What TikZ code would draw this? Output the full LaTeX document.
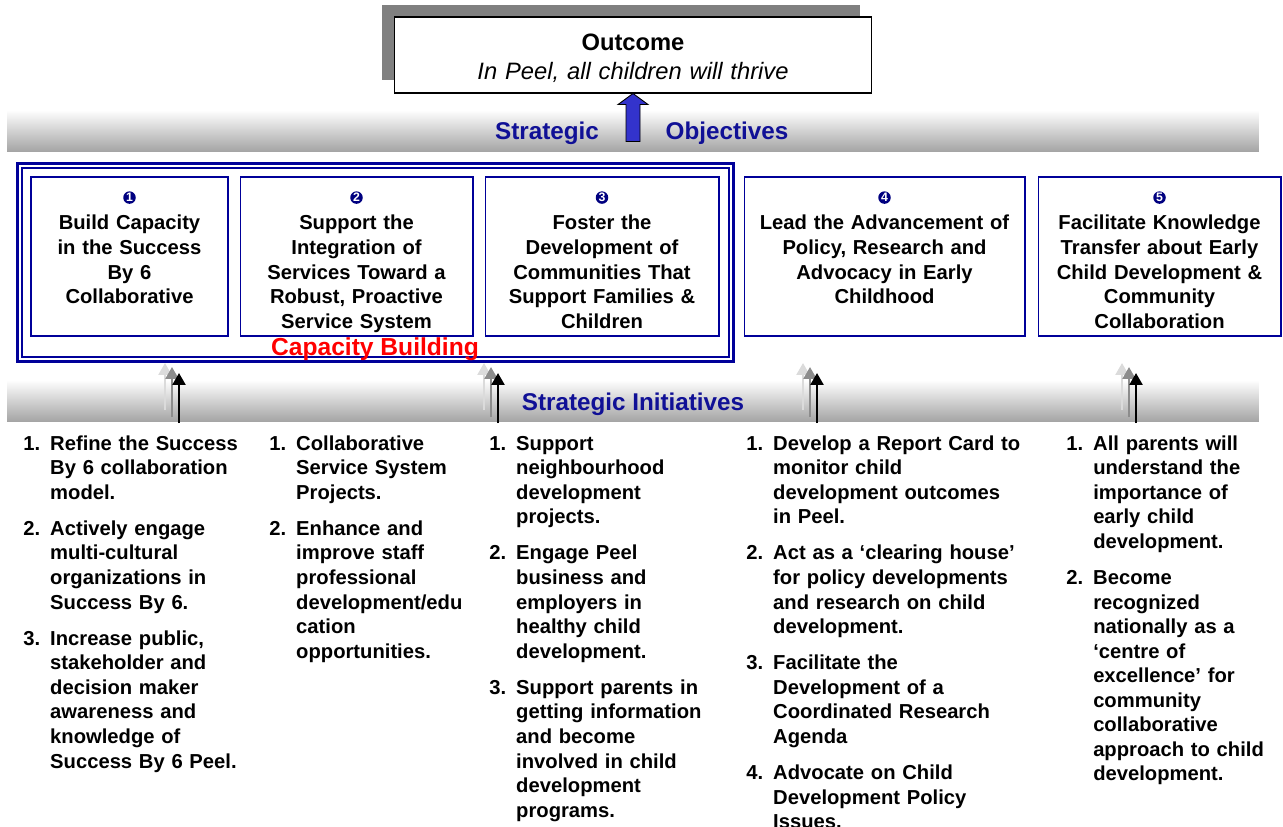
\documentclass[tikz,border=0pt]{standalone}
\usepackage{fontspec}
\setmainfont{Liberation Sans}
\usetikzlibrary{positioning, arrows.meta}

\definecolor{navy}{RGB}{0,0,153}
\definecolor{headblue}{RGB}{16,16,150}
\definecolor{arrowblue}{RGB}{51,51,204}
\definecolor{dotblue}{RGB}{0,0,128}

% one numbered initiative, hanging under its number
\newcommand{\itm}[2]{\hangindent=15.3pt\hangafter=1\noindent\makebox[15.3pt][l]{#1.}#2\par\vspace{6.8pt}}
\newcommand{\nl}{\newline}

\begin{document}
\begin{tikzpicture}[x=0.02cm, y=-0.02cm,
	txt/.style={font=\fontsize{11.5}{13.95}\selectfont\bfseries},
	band/.style={top color=white, bottom color=black!36, minimum width=25.04cm, minimum height=0.84cm, inner sep=0pt},
	heading/.style={text=headblue, font=\fontsize{13.8}{16}\selectfont\bfseries, inner sep=0pt, anchor=base},
	objbox/.style={draw=navy, line width=0.6pt, minimum height=3.18cm, inner sep=0pt},
	objtext/.style={txt, text width=5.5cm, align=center, inner sep=0pt, anchor=base},
	numdot/.style={circle, fill=dotblue, text=white, minimum size=0.25cm, inner sep=0pt, font=\fontsize{7}{7}\selectfont\bfseries},
	initlist/.style={txt, text width=6cm, align=left, inner sep=0pt, anchor=base west},
	up/.style={-{Triangle[width=0.26cm,length=0.24cm]}, line width=1.4pt}]
	\useasboundingbox (0,0) rectangle (1283,827);

	% outcome
	\fill[black!50] (382,5) rectangle (860,80);
	\node[draw, fill=white, line width=0.6pt, minimum width=9.56cm, minimum height=1.52cm] (outcome) at (633,55) {};
	\node[align=center, text width=9cm, inner sep=0pt, anchor=base, font=\fontsize{13.5}{16}\selectfont] (outtext) at (633,51)
		{\textbf{Outcome}\\\textit{In Peel, all children will thrive}};

	% bands
	\node[band] (objband) at (633,131) {};
	\node[band] (initband) at (633,401) {};
	\draw[fill=arrowblue, line width=0.5pt] (outcome.south) -- ++(15,11) -- ++(-8,0) -- ++(0,37) -- ++(-14,0) -- ++(0,-37) -- ++(-8,0) -- cycle;
	\node[heading] (strat) at (547,140) {Strategic};
	\node[heading] (objs) at (727,140) {Objectives};
	\node[heading] (inits) at (633,410) {Strategic Initiatives};

	% objectives
	\node[draw=navy, double, double distance=0.04cm, line width=0.044cm, minimum width=14.24cm, minimum height=3.88cm, inner sep=0pt] (capframe) at (375.5,262.5) {};
	\node[objbox, minimum width=3.94cm] (obj1) at (129.5,256.5) {};
	\node[objbox, minimum width=4.66cm] (obj2) at (356.5,256.5) {};
	\node[objbox, minimum width=4.68cm] (obj3) at (602,256.5) {};
	\node[objbox, minimum width=5.62cm] (obj4) at (884.5,256.5) {};
	\node[objbox, minimum width=4.86cm] (obj5) at (1159.5,256.5) {};
	\foreach \i in {1,...,5}
		\node[numdot, below=0.29cm of obj\i.north] (dot\i) {\i};
	\node[objtext] (t1) at (129.5,230) {Build Capacity\\in the Success\\By 6\\Collaborative};
	\node[objtext] (t2) at (356.5,230) {Support the\\Integration of\\Services Toward a\\Robust, Proactive\\Service System};
	\node[objtext] (t3) at (602,230) {Foster the\\Development of\\Communities That\\Support Families \&\\Children};
	\node[objtext] (t4) at (884.5,230) {Lead the Advancement of\\Policy, Research and\\Advocacy in Early\\Childhood};
	\node[objtext] (t5) at (1159.5,230) {Facilitate Knowledge\\Transfer about Early\\Child Development \&\\Community\\Collaboration};
	\node[text=red, font=\fontsize{14}{16}\selectfont\bfseries, inner sep=0pt, anchor=base] (captext) at (375,355) {Capacity Building};

	% arrows up from the initiatives
	\foreach \x [count=\i] in {179,498,817,1136} {
		\coordinate (foot\i) at (\x,423);
		\coordinate (head\i) at (\x,373);
		\draw[up, black!14] ([shift={(-14,-13)}]foot\i) -- ([shift={(-14,-10)}]head\i);
		\draw[up, black!45] ([shift={(-7,-6)}]foot\i) -- ([shift={(-7,-6)}]head\i);
		\draw[up, black] (foot\i) -- (head\i);
	}

	% initiatives
	\node[initlist] (init1) at (23,450) {%
		\itm{1}{Refine the Success\nl By 6 collaboration\nl model.}%
		\itm{2}{Actively engage\nl multi-cultural\nl organizations in\nl Success By 6.}%
		\itm{3}{Increase public,\nl stakeholder and\nl decision maker\nl awareness and\nl knowledge of\nl Success By 6 Peel.}};
	\node[initlist] (init2) at (269,450) {%
		\itm{1}{Collaborative\nl Service System\nl Projects.}%
		\itm{2}{Enhance and\nl improve staff\nl professional\nl development/edu\nl cation\nl opportunities.}};
	\node[initlist] (init3) at (489,450) {%
		\itm{1}{Support\nl neighbourhood\nl development\nl projects.}%
		\itm{2}{Engage Peel\nl business and\nl employers in\nl healthy child\nl development.}%
		\itm{3}{Support parents in\nl getting information\nl and become\nl involved in child\nl development\nl programs.}};
	\node[initlist] (init4) at (746,450) {%
		\itm{1}{Develop a Report Card to\nl monitor child\nl development outcomes\nl in Peel.}%
		\itm{2}{Act as a ‘clearing house’\nl for policy developments\nl and research on child\nl development.}%
		\itm{3}{Facilitate the\nl Development of a\nl Coordinated Research\nl Agenda}%
		\itm{4}{Advocate on Child\nl Development Policy\nl Issues.}};
	\node[initlist] (init5) at (1066,450) {%
		\itm{1}{All parents will\nl understand the\nl importance of\nl early child\nl development.}%
		\itm{2}{Become\nl recognized\nl nationally as a\nl ‘centre of\nl excellence’ for\nl community\nl collaborative\nl approach to child\nl development.}};
\end{tikzpicture}
\end{document}
